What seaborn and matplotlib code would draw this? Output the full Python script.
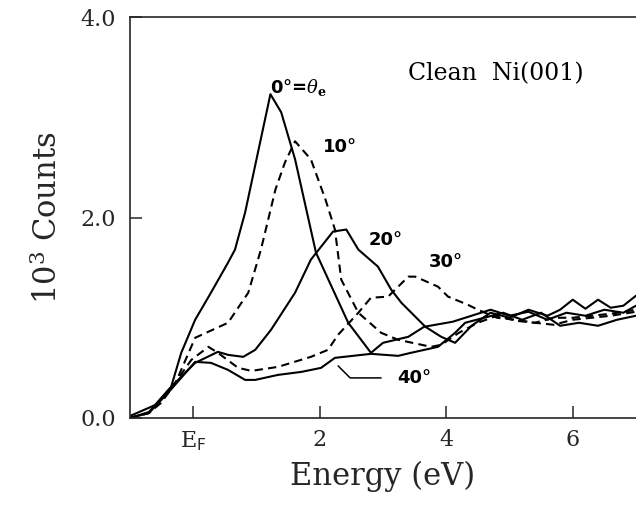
import numpy as np
import pandas as pd
import matplotlib
matplotlib.use("Agg")
import matplotlib.pyplot as plt
import seaborn as sns

# ---- data ----
x0 = [-1.0, -0.6, -0.35, -0.19, 0.03, 0.28, 0.55, 0.66, 0.82, 1.22, 1.39, 1.61, 1.94, 2.45, 2.81,
      3.0, 3.4, 3.65, 4.1, 4.4, 4.7, 5.0, 5.3, 5.6, 5.9, 6.2, 6.5, 6.8, 7.0]
y0 = [0.02, 0.13, 0.31, 0.65, 0.98, 1.25, 1.55, 1.68, 2.05, 3.23, 3.05, 2.58, 1.65, 0.95, 0.65,
      0.75, 0.81, 0.91, 0.96, 1.02, 1.08, 1.02, 1.06, 0.98, 1.05, 1.02, 1.08, 1.05, 1.12]

x10 = [-1.0, -0.7, -0.51, -0.28, 0.03, 0.55, 0.87, 1.07, 1.30, 1.45, 1.61, 1.86, 2.09, 2.24, 2.34,
       2.61, 2.97, 3.24, 3.76, 3.92, 4.2, 4.5, 4.8, 5.1, 5.4, 5.7, 6.0, 6.3, 6.6, 7.0]
y10 = [0.0, 0.05, 0.15, 0.35, 0.80, 0.95, 1.25, 1.68, 2.28, 2.55, 2.76, 2.58, 2.18, 1.88, 1.38,
       1.05, 0.85, 0.78, 0.71, 0.73, 0.85, 0.95, 1.02, 0.97, 0.95, 1.0, 1.0, 1.02, 1.04, 1.08]

x20 = [-1.0, -0.7, -0.35, 0.03, 0.39, 0.55, 0.79, 0.98, 1.23, 1.61, 1.86, 2.21, 2.42, 2.61, 2.92,
       3.13, 3.29, 3.67, 3.92, 4.14, 4.4, 4.7, 5.0, 5.3, 5.6, 5.8, 6.0, 6.2, 6.4, 6.6, 6.8, 7.0]
y20 = [0.0, 0.06, 0.31, 0.55, 0.66, 0.63, 0.61, 0.68, 0.88, 1.25, 1.58, 1.86, 1.88, 1.68, 1.51,
       1.28, 1.15, 0.91, 0.81, 0.75, 0.92, 1.05, 1.0, 1.08, 1.02, 1.08, 1.18, 1.09, 1.18, 1.10, 1.12, 1.22]

x30 = [-1.0, -0.7, -0.4, -0.03, 0.24, 0.39, 0.71, 0.92, 1.34, 1.86, 2.13, 2.29, 2.61, 2.81, 3.08,
       3.40, 3.51, 3.87, 4.03, 4.34, 4.50, 4.8, 5.1, 5.4, 5.7, 6.0, 6.3, 6.6, 7.0]
y30 = [0.0, 0.05, 0.25, 0.58, 0.71, 0.65, 0.50, 0.47, 0.51, 0.61, 0.68, 0.83, 1.05, 1.20, 1.21,
       1.41, 1.41, 1.31, 1.21, 1.13, 1.08, 1.0, 0.98, 0.95, 0.93, 0.98, 1.0, 1.02, 1.06]

x40 = [-1.0, -0.7, -0.4, 0.03, 0.28, 0.55, 0.82, 0.98, 1.34, 1.71, 2.02, 2.24, 2.81, 3.24, 3.44,
       3.87, 4.14, 4.30, 4.6, 4.9, 5.2, 5.5, 5.8, 6.1, 6.4, 6.7, 7.0]
y40 = [0.0, 0.05, 0.25, 0.56, 0.55, 0.48, 0.38, 0.38, 0.43, 0.46, 0.50, 0.60, 0.64, 0.62, 0.65,
       0.71, 0.85, 0.95, 1.0, 1.05, 0.98, 1.05, 0.92, 0.95, 0.92, 0.98, 1.02]

angles = ["0", "10", "20", "30", "40"]
x_ticks = [0, 2, 4, 6]
x_ticklabels = [r"E$_{\mathsf{F}}$", "2", "4", "6"]
y_ticks = [0, 2, 4]
y_ticklabels = ["0.0", "2.0", "4.0"]

frames = []
for a, xs, ys in zip(angles, [x0, x10, x20, x30, x40], [y0, y10, y20, y30, y40]):
    frames.append(pd.DataFrame({"energy": xs, "counts": ys, "angle": a}))
df = pd.concat(frames, ignore_index=True)

sns.set_style("ticks")
plt.rcParams["font.family"] = ["DejaVu Serif"]
plt.rcParams["mathtext.fontset"] = "dejavuserif"

fig = plt.figure(figsize=(6.36, 5.12), dpi=100)
ax = fig.add_axes([130 / 636, 1 - 418 / 512, 1 - 130 / 636, (418 - 17) / 512])

styles = {"0": "-", "10": "--", "20": "-", "30": "--", "40": "-"}
for a in angles:
    sub = df[df["angle"] == a]
    sns.lineplot(data=sub, x="energy", y="counts", ax=ax, sort=False, estimator=None,
                 color="black", linewidth=1.5, linestyle=styles[a], legend=False)
for line in ax.get_lines():
    if line.get_linestyle() == "--":
        line.set_dashes([4, 2.5])

ax.set_xlim(-1, 7)
ax.set_ylim(0, 4)
ax.set_xticks(x_ticks)
ax.set_xticklabels(x_ticklabels)
ax.set_yticks(y_ticks)
ax.set_yticklabels(y_ticklabels)
ax.tick_params(direction="in", length=8.5, width=1.1, labelsize=16, pad=8)
ax.tick_params(axis="y", pad=10)
for s in ["left", "top", "bottom"]:
    ax.spines[s].set_linewidth(1.2)
ax.spines["right"].set_visible(False)

ax.set_xlabel("Energy (eV)", fontsize=22, labelpad=6)
ax.set_ylabel(r"10$^3$ Counts", fontsize=22, labelpad=12)

bold = dict(family="DejaVu Sans", fontweight="bold", fontsize=13, color="black")
ax.text(1.22, 3.3, r"0°=$\theta_{\mathbf{e}}$", va="center", ha="left", **bold)
ax.text(2.05, 2.7, "10°", va="center", ha="left", **bold)
ax.text(2.78, 1.78, "20°", va="center", ha="left", **bold)
ax.text(3.72, 1.56, "30°", va="center", ha="left", **bold)
ax.text(3.22, 0.40, "40°", va="center", ha="left", **bold)
ax.plot([2.29, 2.48, 2.97], [0.52, 0.40, 0.40], color="black", linewidth=1.1)
ax.text(3.40, 3.43, "Clean  Ni(001)", va="center", ha="left", fontsize=17, color="black")

fig.savefig("out.png", dpi=100)
